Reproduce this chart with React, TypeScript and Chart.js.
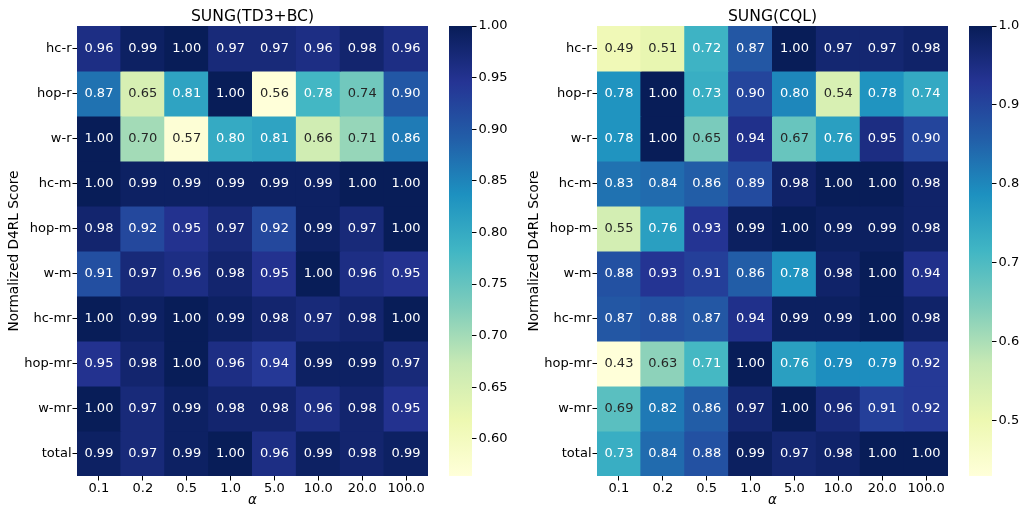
import { useEffect, useRef } from 'react';
import { Chart, registerables } from 'chart.js';

Chart.register(...registerables);
Chart.defaults.font.family = '"DejaVu Sans", sans-serif';
Chart.defaults.color = '#000';

// ---------- data ----------
const alphaLabels = ['0.1', '0.2', '0.5', '1.0', '5.0', '10.0', '20.0', '100.0'];
const taskLabels = ['hc-r', 'hop-r', 'w-r', 'hc-m', 'hop-m', 'w-m', 'hc-mr', 'hop-mr', 'w-mr', 'total'];

// SUNG(TD3+BC)
const td3bcHcR = [0.96, 0.99, 1.0, 0.97, 0.97, 0.96, 0.98, 0.96];
const td3bcHopR = [0.87, 0.65, 0.81, 1.0, 0.56, 0.78, 0.74, 0.9];
const td3bcWR = [1.0, 0.7, 0.57, 0.8, 0.81, 0.66, 0.71, 0.86];
const td3bcHcM = [1.0, 0.99, 0.99, 0.99, 0.99, 0.99, 1.0, 1.0];
const td3bcHopM = [0.98, 0.92, 0.95, 0.97, 0.92, 0.99, 0.97, 1.0];
const td3bcWM = [0.91, 0.97, 0.96, 0.98, 0.95, 1.0, 0.96, 0.95];
const td3bcHcMr = [1.0, 0.99, 1.0, 0.99, 0.98, 0.97, 0.98, 1.0];
const td3bcHopMr = [0.95, 0.98, 1.0, 0.96, 0.94, 0.99, 0.99, 0.97];
const td3bcWMr = [1.0, 0.97, 0.99, 0.98, 0.98, 0.96, 0.98, 0.95];
const td3bcTotal = [0.99, 0.97, 0.99, 1.0, 0.96, 0.99, 0.98, 0.99];
const td3bcRows = [td3bcHcR, td3bcHopR, td3bcWR, td3bcHcM, td3bcHopM, td3bcWM, td3bcHcMr, td3bcHopMr, td3bcWMr, td3bcTotal];
const td3bcRange = [0.564, 1.0];
const td3bcBarTicks = [0.6, 0.65, 0.7, 0.75, 0.8, 0.85, 0.9, 0.95, 1.0];

// SUNG(CQL)
const cqlHcR = [0.49, 0.51, 0.72, 0.87, 1.0, 0.97, 0.97, 0.98];
const cqlHopR = [0.78, 1.0, 0.73, 0.9, 0.8, 0.54, 0.78, 0.74];
const cqlWR = [0.78, 1.0, 0.65, 0.94, 0.67, 0.76, 0.95, 0.9];
const cqlHcM = [0.83, 0.84, 0.86, 0.89, 0.98, 1.0, 1.0, 0.98];
const cqlHopM = [0.55, 0.76, 0.93, 0.99, 1.0, 0.99, 0.99, 0.98];
const cqlWM = [0.88, 0.93, 0.91, 0.86, 0.78, 0.98, 1.0, 0.94];
const cqlHcMr = [0.87, 0.88, 0.87, 0.94, 0.99, 0.99, 1.0, 0.98];
const cqlHopMr = [0.43, 0.63, 0.71, 1.0, 0.76, 0.79, 0.79, 0.92];
const cqlWMr = [0.686, 0.82, 0.86, 0.97, 1.0, 0.96, 0.91, 0.92];
const cqlTotal = [0.73, 0.84, 0.88, 0.99, 0.97, 0.98, 1.0, 1.0];
const cqlRows = [cqlHcR, cqlHopR, cqlWR, cqlHcM, cqlHopM, cqlWM, cqlHcMr, cqlHopMr, cqlWMr, cqlTotal];
const cqlRange = [0.43, 1.0];
const cqlBarTicks = [0.5, 0.6, 0.7, 0.8, 0.9, 1.0];

// ---------- colour map (YlGnBu) ----------
const YLGNBU = ['#ffffd9', '#edf8b1', '#c7e9b4', '#7fcdbb', '#41b6c4', '#1d91c0', '#225ea8', '#253494', '#081d58'];
const hexToRgb = (h: string) => [1, 3, 5].map((i) => parseInt(h.slice(i, i + 2), 16));
const STOPS = YLGNBU.map(hexToRgb);

function cmapRgb(t: number): number[] {
  const tt = Math.max(0, Math.min(1, t)) * (STOPS.length - 1);
  const i = Math.min(STOPS.length - 2, Math.floor(tt));
  const f = tt - i;
  return STOPS[i].map((c, k) => Math.round(c + (STOPS[i + 1][k] - c) * f));
}
const rgbStr = (c: number[]) => `rgb(${c[0]},${c[1]},${c[2]})`;

function textColorFor(c: number[]): string {
  const lin = c.map((v) => {
    const x = v / 255;
    return x <= 0.03928 ? x / 12.92 : Math.pow((x + 0.055) / 1.055, 2.4);
  });
  const lum = 0.2126 * lin[0] + 0.7152 * lin[1] + 0.0722 * lin[2];
  return lum > 0.408 ? 'rgb(38,38,38)' : '#ffffff';
}

// ---------- plugins ----------
const annotatePlugin = {
  id: 'annotate',
  afterDatasetsDraw(chart: any) {
    const c = chart.ctx;
    c.save();
    c.font = '13px "DejaVu Sans"';
    c.textAlign = 'center';
    c.textBaseline = 'middle';
    chart.data.datasets.forEach((ds: any, di: number) => {
      const meta = chart.getDatasetMeta(di);
      meta.data.forEach((el: any, i: number) => {
        const { x, y, base } = el.getProps(['x', 'y', 'base'], true);
        c.fillStyle = ds.textColors[i];
        c.fillText(ds.scores[i].toFixed(2), x, (y + base) / 2 + 0.5);
      });
    });
    c.restore();
  },
};

// ---------- components ----------
function Heatmap({ title, rows, range, left }: { title: string; rows: number[][]; range: number[]; left: number }) {
  const ref = useRef<HTMLCanvasElement>(null);
  useEffect(() => {
    const [vmin, vmax] = range;
    const datasets = taskLabels.map((task, r) => {
      const cols = rows[r].map((v) => cmapRgb((v - vmin) / (vmax - vmin)));
      return {
        label: task,
        data: alphaLabels.map(() => [r, r + 1]),
        scores: rows[r],
        textColors: cols.map(textColorFor),
        backgroundColor: cols.map(rgbStr),
        borderWidth: 0,
        grouped: false,
        barPercentage: 1,
        categoryPercentage: 1,
        inflateAmount: 0.5,
      };
    });
    const chart = new Chart(ref.current!, {
      type: 'bar',
      data: { labels: alphaLabels, datasets: datasets as any },
      plugins: [annotatePlugin],
      options: {
        responsive: false,
        animation: false,
        events: [],
        layout: { padding: { left: 0, right: 12, top: 0, bottom: 0 } },
        plugins: {
          legend: { display: false },
          tooltip: { enabled: false },
          title: {
            display: true,
            text: title,
            fullSize: false,
            color: '#000',
            font: { size: 15.6, weight: 'normal', lineHeight: 1 },
            padding: { top: 9, bottom: 1.4 },
          },
        },
        scales: {
          x: {
            type: 'category',
            afterFit: (s: any) => {
              s.height = 30;
            },
            ticks: { font: { size: 13 }, color: '#000', padding: 0, maxRotation: 0, autoSkip: false },
            grid: { offset: false, drawOnChartArea: false, tickLength: 4.5, tickColor: '#000', tickWidth: 1 },
            border: { display: false },
            title: {
              display: true,
              text: 'α',
              color: '#000',
              font: { size: 13.5, style: 'italic' },
              padding: { top: 0, bottom: -2.5 },
            },
          },
          y: {
            type: 'linear',
            min: 0,
            max: 10,
            reverse: true,
            afterBuildTicks: (s: any) => {
              s.ticks = taskLabels.map((_, i) => ({ value: i + 0.5 }));
            },
            afterFit: (s: any) => {
              s.width = 77;
            },
            ticks: {
              callback: (_v: any, i: number) => taskLabels[i],
              font: { size: 13 },
              color: '#000',
              padding: 1,
              autoSkip: false,
            },
            grid: { drawOnChartArea: false, tickLength: 4.5, tickColor: '#000', tickWidth: 1 },
            border: { display: false },
            title: {
              display: true,
              text: 'Normalized D4RL Score',
              color: '#000',
              font: { size: 13.7 },
              padding: { top: 6, bottom: 0 },
            },
          },
        },
      } as any,
    });
    return () => chart.destroy();
  }, []);
  return (
    <canvas
      ref={ref}
      width={440}
      height={506}
      style={{ position: 'absolute', left, top: 0, width: 440, height: 506, display: 'block' }}
    />
  );
}

function ColorBar({ range, ticks, decimals, left, width, axisWidth }: { range: number[]; ticks: number[]; decimals: number; left: number; width: number; axisWidth: number }) {
  const ref = useRef<HTMLCanvasElement>(null);
  useEffect(() => {
    const [vmin, vmax] = range;
    const chart = new Chart(ref.current!, {
      type: 'bar',
      data: {
        labels: [''],
        datasets: [
          {
            data: [[vmin, vmax]] as any,
            backgroundColor: (ctx: any) => {
              const ch = ctx.chart;
              if (!ch.chartArea) return '#081d58';
              const y = ch.scales.y;
              const g = ch.ctx.createLinearGradient(0, y.getPixelForValue(vmin), 0, y.getPixelForValue(vmax));
              YLGNBU.forEach((col, i) => g.addColorStop(i / (YLGNBU.length - 1), col));
              return g;
            },
            borderWidth: 0,
            barPercentage: 1,
            categoryPercentage: 1,
          },
        ],
      },
      options: {
        responsive: false,
        animation: false,
        events: [],
        layout: { padding: { left: 9, right: 0, top: 26, bottom: 30 } },
        plugins: { legend: { display: false }, tooltip: { enabled: false }, title: { display: false } },
        scales: {
          x: { display: false },
          y: {
            type: 'linear',
            position: 'right',
            min: vmin,
            max: vmax,
            afterBuildTicks: (s: any) => {
              s.ticks = ticks.map((v) => ({ value: v }));
            },
            afterFit: (s: any) => {
              s.width = axisWidth;
            },
            ticks: {
              callback: (v: any) => Number(v).toFixed(decimals),
              font: { size: 13 },
              color: '#000',
              padding: 2,
              autoSkip: false,
            },
            grid: { drawOnChartArea: false, tickLength: 4.5, tickColor: '#000', tickWidth: 1 },
            border: { display: false },
          },
        },
      } as any,
    });
    return () => chart.destroy();
  }, []);
  return (
    <canvas
      ref={ref}
      width={width}
      height={506}
      style={{ position: 'absolute', left, top: 0, width, height: 506, display: 'block' }}
    />
  );
}

export default function App() {
  return (
    <div style={{ position: 'absolute', left: 0, top: 0, width: 1021, height: 506, background: '#fff', overflow: 'hidden' }}>
      <Heatmap title="SUNG(TD3+BC)" rows={td3bcRows} range={td3bcRange} left={0} />
      <ColorBar range={td3bcRange} ticks={td3bcBarTicks} decimals={2} left={440} width={80} axisWidth={48} />
      <Heatmap title="SUNG(CQL)" rows={cqlRows} range={cqlRange} left={520} />
      <ColorBar range={cqlRange} ticks={cqlBarTicks} decimals={1} left={960} width={61} axisWidth={29} />
    </div>
  );
}
